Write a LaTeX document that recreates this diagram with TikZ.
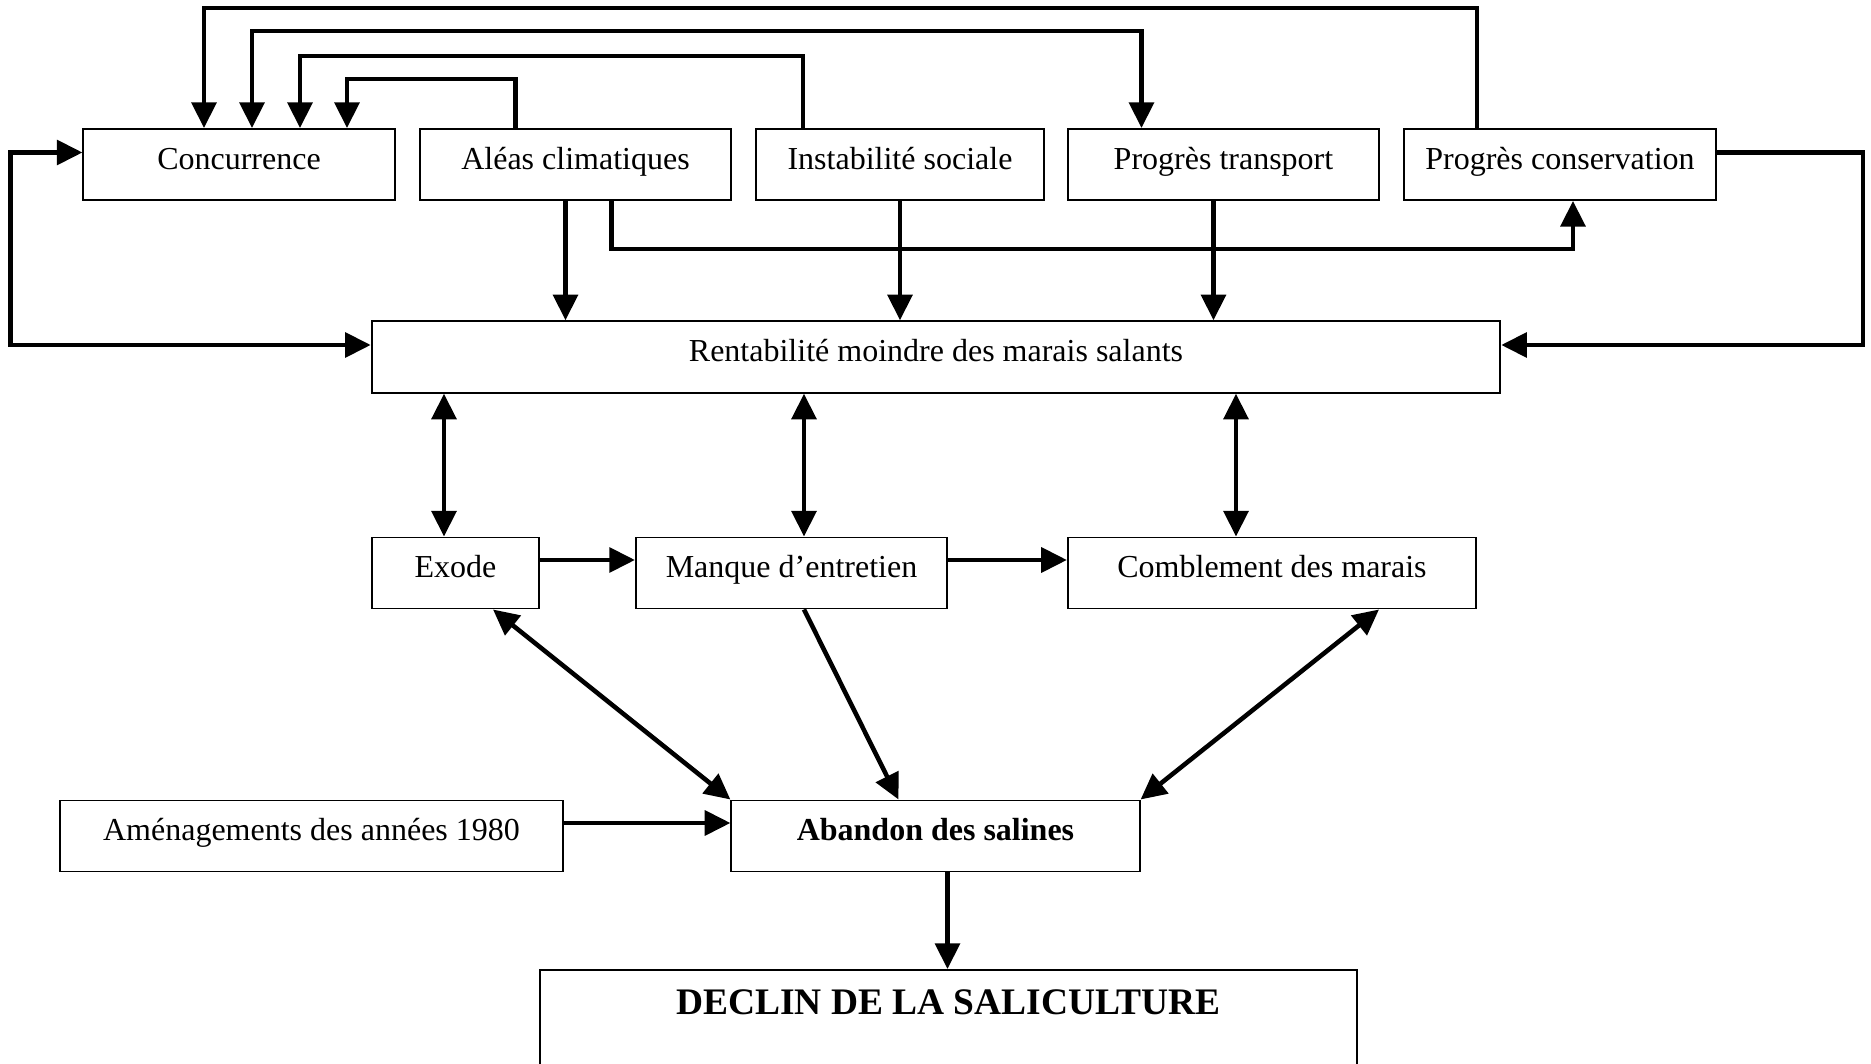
\documentclass[tikz,border=0pt]{standalone}
\usepackage{fontspec}
\setmainfont{Liberation Serif}
\usepackage{tikz}
\usetikzlibrary{arrows.meta,calc}

\begin{document}
\begin{tikzpicture}[
  x=0.01cm, y=-0.01cm,
  font=\fontsize{9.1}{11}\selectfont,
  >={Triangle[length=7.3pt,width=7pt]},
  every node/.style={align=center},
  box/.style={draw, line width=0.55pt, inner sep=0pt, minimum height=0.71cm,
              text height=7pt, text depth=4.4pt},
  link/.style={->, line width=1.3pt},
  biglink/.style={<->, line width=1.3pt},
]
  \useasboundingbox (0,0) rectangle (1871,1064);

  % top row: the causes
  \node[box, minimum width=3.11cm]  (conc)    at (239,164.5)  {Concurrence};
  \node[box, minimum width=3.11cm]  (aleas)   at (575.5,164.5){Aléas climatiques};
  \node[box, minimum width=2.875cm] (inst)    at (900,164.5)  {Instabilité sociale};
  \node[box, minimum width=3.11cm]  (transp)  at (1223.5,164.5){Progrès transport};
  \node[box, minimum width=3.12cm]  (conserv) at (1560,164.5) {Progrès conservation};

  \node[box, minimum width=11.28cm, minimum height=0.715cm] (rent) at (936,357)
       {Rentabilité moindre des marais salants};

  \node[box, minimum width=1.67cm] (exode)  at (455.5,573) {Exode};
  \node[box, minimum width=3.11cm] (manque) at (791.5,573) {Manque d’entretien};
  \node[box, minimum width=4.08cm] (combl)  at (1272,573)  {Comblement des marais};

  \node[box, minimum width=5.03cm] (amen)  at (311.5,836) {Aménagements des années 1980};
  \node[box, minimum width=4.08cm, font=\fontsize{9.1}{11}\selectfont\bfseries] (aband) at (935.5,836)
       {Abandon des salines};

  % the box runs off the bottom of the page
  \node[box, anchor=north, minimum width=8.16cm, inner ysep=3pt, text height=9.8pt,
        text depth=40pt, font=\fontsize{10.65}{12}\selectfont\bfseries] (declin) at (948.5,969)
       {DECLIN DE LA SALICULTURE};

  % loops over the top row
  \draw[link] ($(aleas.north)+(-60,0)$) -- ++(0,-49) -| ($(conc.north)+(108,0)$);
  \draw[link] ($(inst.north)+(-97,0)$) -- ++(0,-72) -| ($(conc.north)+(61,0)$);
  \draw[biglink] ($(conc.north)+(13,0)$) -- ++(0,-97) -| ($(transp.north)+(-82,0)$);
  \draw[link] ($(conserv.north)+(-83,0)$) -- ++(0,-120) -| ($(conc.north)+(-35,0)$);

  \draw[link] ($(aleas.south)+(36,0)$) -- ++(0,48) -| ($(conserv.south)+(13,0)$);
  \draw[link] ($(aleas.south)+(-10,0)$) coordinate (a) -- (a |- rent.north);
  \draw[link] (inst.south) -- (inst.south |- rent.north);
  \draw[link] ($(transp.south)+(-10,0)$) coordinate (a) -- (a |- rent.north);

  \draw[link] ($(conserv.east)+(0,-12)$) -- ++(146,0) |- ($(rent.east)+(0,-12)$);
  \draw[biglink] ($(conc.west)+(0,-12)$) -- ++(-72,0) |- ($(rent.west)+(0,-12)$);

  \draw[biglink] ($(exode.north)+(-11.5,0)$) coordinate (a) -- (a |- rent.south);
  \draw[biglink] ($(manque.north)+(12.5,0)$) coordinate (a) -- (a |- rent.south);
  \draw[biglink] ($(combl.north)+(-36,0)$) coordinate (a) -- (a |- rent.south);

  \draw[link] ($(exode.east)+(0,-13)$) coordinate (a) -- (a -| manque.west);
  \draw[link] ($(manque.east)+(0,-13)$) coordinate (a) -- (a -| combl.west);

  \draw[biglink] ($(exode.south)+(37.5,0)$) -- (aband.north west);
  \draw[link] ($(manque.south)+(12.5,0)$) -- ($(aband.north)+(-37,0)$);
  \draw[biglink] ($(combl.south)+(107,0)$) -- (aband.north east);

  \draw[link] ($(amen.east)+(0,-13)$) coordinate (a) -- (a -| aband.west);
  \draw[link] ($(aband.south)+(12,0)$) coordinate (a) -- (a |- declin.north);
\end{tikzpicture}
\end{document}
